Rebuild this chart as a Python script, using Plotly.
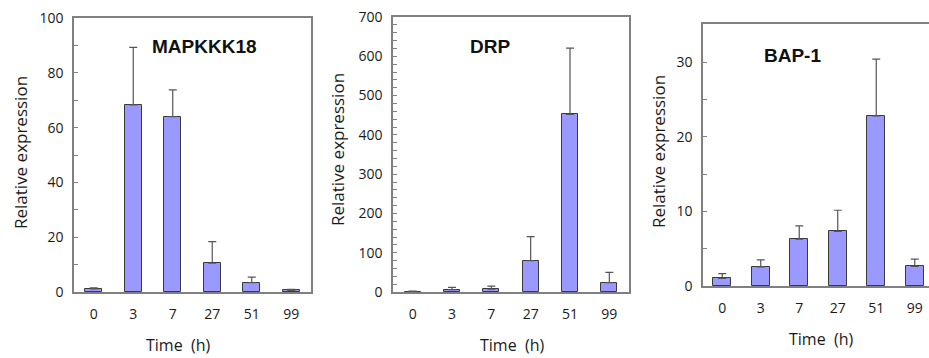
import plotly.graph_objects as go

# ---- data ----
times = ["0", "3", "7", "27", "51", "99"]
mapkkk18 = [1.1, 68.3, 64.0, 10.5, 3.4, 0.6]
mapkkk18_err = [0.4, 21.0, 9.8, 7.9, 2.0, 0.4]
drp = [1, 6, 7, 80, 452, 24]
drp_err = [1, 6, 8, 61, 169, 26]
bap1 = [1.03, 2.55, 6.26, 7.33, 22.8, 2.64]
bap1_err = [0.62, 0.95, 1.79, 2.82, 7.6, 0.96]
titles = ["MAPKKK18", "DRP", "BAP-1"]

W, H = 929, 358
def px(x):
    return x / W
def py(y):
    return 1 - y / H

BAR = "#9999ff"
EDGE = "#3a3a3a"
AX = "#808080"
TXT = "#1a1a1a"
TICKFONT = dict(family="Open Sans, Noto Sans, sans-serif", size=14, color=TXT)

panels = [
    dict(vals=mapkkk18, err=mapkkk18_err, x0=74, x1=311, y0=18, y1=292, rng=[0, 100],
         dt=20, mdt=10, bw=0.42, xr=[-0.5, 5.5], mirror=True,
         title_xy=(204, 46), ytitle_xy=(20, 153), xtitle_xy=(178, 345)),
    dict(vals=drp, err=drp_err, x0=393, x1=629, y0=17, y1=292, rng=[0, 700],
         dt=100, mdt=20, bw=0.40, xr=[-0.5, 5.5], mirror=True,
         title_xy=(490, 46), ytitle_xy=(338, 150), xtitle_xy=(512, 345)),
    dict(vals=bap1, err=bap1_err, x0=703, x1=929, y0=24, y1=286, rng=[0, 35.1],
         dt=10, mdt=5, bw=0.46, xr=[-0.5, 5.5 - (934 - 929) / 38.6], mirror=False,
         title_xy=(792, 55), ytitle_xy=(658, 152), xtitle_xy=(821, 339)),
]

fig = go.Figure()
annotations = []
layout = dict(width=W, height=H, autosize=False,
              margin=dict(l=0, r=0, t=0, b=0, autoexpand=False),
              paper_bgcolor="white", plot_bgcolor="white", showlegend=False,
              bargap=0)

for i, p in enumerate(panels):
    n = "" if i == 0 else str(i + 1)
    fig.add_trace(go.Bar(
        x=times, y=p["vals"], width=p["bw"],
        marker=dict(color=BAR, line=dict(color=EDGE, width=1)),
        error_y=dict(type="data", array=p["err"], arrayminus=[0] * len(p["err"]),
                     symmetric=False, color="#555555", thickness=1.2, width=4),
        xaxis="x" + n, yaxis="y" + n,
    ))
    layout["xaxis" + n] = dict(
        domain=[px(p["x0"]), px(p["x1"])], anchor="y" + n,
        type="category", range=p["xr"], showline=True, linecolor=AX, linewidth=1.5,
        mirror=True, ticks="", showgrid=False, zeroline=False, automargin=False,
        tickfont=TICKFONT, ticklabelstandoff=8,
    )
    layout["yaxis" + n] = dict(
        domain=[py(p["y1"]), py(p["y0"])], anchor="x" + n,
        range=p["rng"], dtick=p["dt"], tick0=0, showline=True, linecolor=AX,
        linewidth=1.5, mirror=p["mirror"], ticks="inside", ticklen=4,
        tickcolor=AX, tickwidth=1, showgrid=False, zeroline=False, automargin=False,
        tickfont=TICKFONT, ticklabelstandoff=6,
        minor=dict(dtick=p["mdt"], ticks="inside", ticklen=4, tickcolor=AX,
                   tickwidth=1, showgrid=False),
    )
    tx, ty = p["title_xy"]
    annotations.append(dict(text="<b>%s</b>" % titles[i], x=px(tx), y=py(ty),
                            xref="paper", yref="paper", showarrow=False,
                            xanchor="center", yanchor="middle",
                            font=dict(family="Liberation Sans, Arial, sans-serif",
                                      size=19, color="#111111")))
    yx, yy = p["ytitle_xy"]
    annotations.append(dict(text="Relative expression", x=px(yx), y=py(yy),
                            xref="paper", yref="paper", showarrow=False,
                            textangle=-90, xanchor="center", yanchor="middle",
                            font=dict(family="Open Sans, Noto Sans, sans-serif",
                                      size=17, color=TXT)))
    xx, xy = p["xtitle_xy"]
    annotations.append(dict(text="Time&nbsp;&nbsp;(h)", x=px(xx), y=py(xy),
                            xref="paper", yref="paper", showarrow=False,
                            xanchor="center", yanchor="middle", borderpad=0,
                            font=dict(family="Open Sans, Noto Sans, sans-serif",
                                      size=16, color=TXT)))

layout["annotations"] = annotations
fig.update_layout(**layout)
fig.write_html("out.html",
               config={"displayModeBar": False, "responsive": False},
               post_script="document.body.style.margin='0';document.body.style.overflow='hidden';")
